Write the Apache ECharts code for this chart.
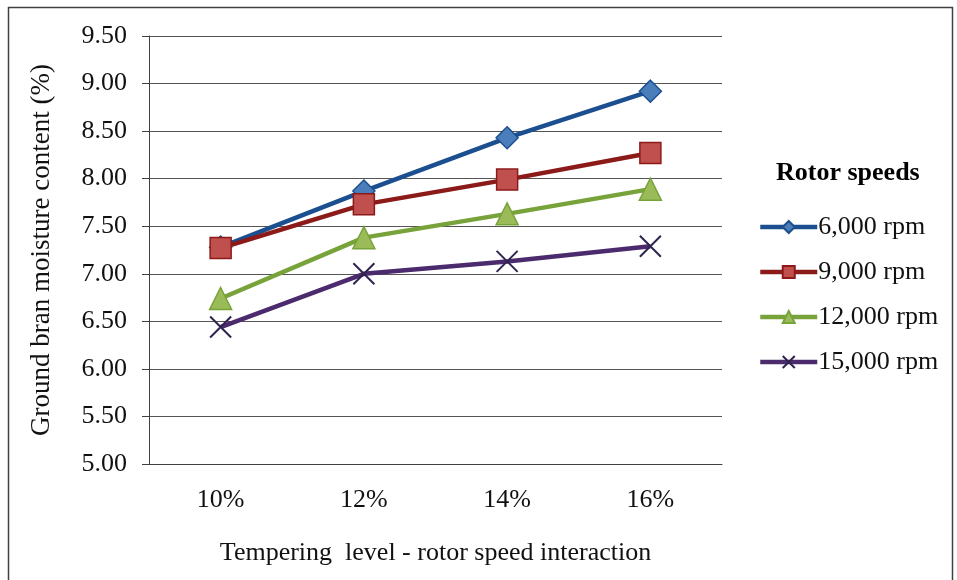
<!DOCTYPE html>
<html>
<head>
<meta charset="utf-8">
<script src="https://cdn.jsdelivr.net/npm/echarts@6/dist/echarts.min.js"></script>
<style>
  html, body { margin: 0; padding: 0; background: #fff; }
  #chart { width: 957px; height: 580px; }
</style>
</head>
<body>
<div id="chart"></div>
<script>
// Tempering level categories and moisture readings per rotor speed
const categories = ['10%', '12%', '14%', '16%'];
const rpm6000 = [7.28, 7.87, 8.43, 8.92];
const rpm9000 = [7.27, 7.73, 7.99, 8.27];
const rpm12000 = [6.74, 7.38, 7.63, 7.89];
const rpm15000 = [6.44, 7.00, 7.13, 7.29];
const seriesNames = ['6,000 rpm', '9,000 rpm', '12,000 rpm', '15,000 rpm'];
const yTicks = { min: 5, max: 9.5, step: 0.5 };

const FONT = '"Liberation Serif", "Times New Roman", serif';
const crossPath = 'path://M0,0L10,10M10,0L0,10';

function lineSeries(name, data, lineColor, symbol, fill, border, size) {
  return {
    name: name,
    type: 'line',
    data: data,
    symbol: symbol,
    symbolSize: size,
    lineStyle: { color: lineColor, width: 4.5 },
    itemStyle: { color: fill, borderColor: border, borderWidth: 1.5 },
    emphasis: { disabled: true },
    z: 3
  };
}

const chart = echarts.init(document.getElementById('chart'), null, { renderer: 'canvas' });
chart.setOption({
  animation: false,
  backgroundColor: '#fff',
  grid: { left: 149, right: 235, top: 36, bottom: 116 },
  graphic: [
    { type: 'rect', shape: { x: 8.5, y: 7.5, width: 944, height: 580 },
      style: { fill: 'none', stroke: '#404040', lineWidth: 1.5 }, silent: true },
    { type: 'text', left: 776, top: 160,
      style: { text: 'Rotor speeds', font: 'bold 26px ' + FONT, fill: '#000' } }
  ],
  legend: {
    orient: 'vertical',
    left: 753,
    top: 209,
    itemGap: 19,
    itemWidth: 57,
    itemHeight: 15,
    lineStyle: { width: 4.5 },
    textStyle: { fontFamily: FONT, fontSize: 26, color: '#111', padding: [0, 0, 0, -4] },
    data: seriesNames
  },
  xAxis: {
    type: 'category',
    data: categories,
    boundaryGap: true,
    name: 'Tempering  level - rotor speed interaction',
    nameLocation: 'middle',
    nameGap: 76,
    nameTextStyle: { fontFamily: FONT, fontSize: 26, color: '#111' },
    axisLine: { lineStyle: { color: '#404040', width: 1 } },
    axisTick: { length: 7, lineStyle: { color: '#404040' } },
    axisLabel: { fontFamily: FONT, fontSize: 26, color: '#111', margin: 23 }
  },
  yAxis: {
    type: 'value',
    min: yTicks.min,
    max: yTicks.max,
    interval: yTicks.step,
    name: 'Ground bran moisture content (%)',
    nameLocation: 'middle',
    nameGap: 94,
    nameTextStyle: { fontFamily: FONT, fontSize: 27, color: '#111' },
    axisLine: { show: true, lineStyle: { color: '#404040', width: 1 } },
    axisTick: { show: true, length: 7, lineStyle: { color: '#404040' } },
    axisLabel: { fontFamily: FONT, fontSize: 26, color: '#111', margin: 22,
      formatter: v => v.toFixed(2) },
    splitLine: { lineStyle: { color: '#555', width: 1.2 } }
  },
  series: [
    lineSeries(seriesNames[0], rpm6000, '#1c4f8f', 'diamond', '#4a7ebb', '#1c4f8f', 22),
    lineSeries(seriesNames[1], rpm9000, '#8c1a18', 'rect', '#c0504d', '#8c1a18', 21),
    lineSeries(seriesNames[2], rpm12000, '#77a33a', 'triangle', '#9bbb59', '#77a33a', 22),
    {
      name: seriesNames[3],
      type: 'line',
      data: rpm15000,
      symbol: crossPath,
      symbolSize: 21,
      lineStyle: { color: '#4b2a6e', width: 4.5 },
      itemStyle: { color: 'rgba(0,0,0,0)', borderColor: '#2f2350', borderWidth: 2 },
      emphasis: { disabled: true },
      z: 3
    }
  ]
});
</script>
</body>
</html>
